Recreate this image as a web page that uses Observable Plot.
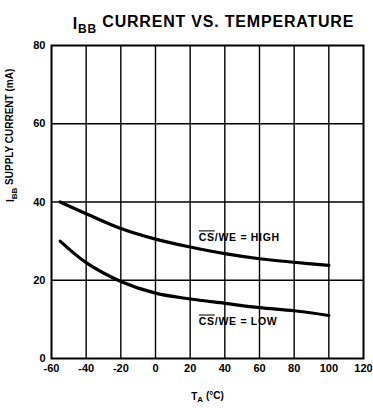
<!DOCTYPE html>
<html><head><meta charset="utf-8">
<script src="https://cdn.jsdelivr.net/npm/d3@7"></script>
<script src="https://cdn.jsdelivr.net/npm/@observablehq/plot@0.6"></script>
<style>body{margin:0;background:#fff}</style>
</head><body><div id="chart"></div>
<script>
const temps = [-55, -40, -20, 0, 20, 40, 60, 80, 100];
const currentHigh = [40, 37, 33.2, 30.5, 28.5, 26.8, 25.5, 24.6, 23.8];
const currentLow = [30, 24.5, 19.7, 16.7, 15.2, 14.1, 13, 12.2, 11];
const xTicks = [-60, -40, -20, 0, 20, 40, 60, 80, 100, 120];
const yTicks = [0, 20, 40, 60, 80];
const seriesLabels = [
  {t: 25, v: 30.8, label: "CS/WE = HIGH"},
  {t: 25, v: 9.3, label: "CS/WE = LOW"}
];

const high = temps.map((t, i) => ({t, v: currentHigh[i]}));
const low = temps.map((t, i) => ({t, v: currentLow[i]}));
const font = "Liberation Sans, Arial, sans-serif";

const chart = Plot.plot({
  width: 373, height: 408,
  marginLeft: 51, marginRight: 10, marginTop: 45, marginBottom: 50,
  style: {fontFamily: font, background: "#fff", color: "#000"},
  x: {domain: [-60, 120]},
  y: {domain: [0, 80]},
  marks: [
    Plot.ruleX(xTicks.slice(1, -1), {stroke: "#000", strokeWidth: 1.4}),
    Plot.ruleY(yTicks.slice(1, -1), {stroke: "#000", strokeWidth: 1.4}),
    Plot.frame({stroke: "#000", strokeWidth: 2}),
    Plot.line(high, {x: "t", y: "v", curve: "catmull-rom", stroke: "#000", strokeWidth: 3.2}),
    Plot.line(low, {x: "t", y: "v", curve: "catmull-rom", stroke: "#000", strokeWidth: 3.2}),
    Plot.text(seriesLabels, {x: "t", y: "v", text: "label", textAnchor: "start", fontSize: 10.5, fontWeight: "bold", className: "serieslabel"}),
    Plot.axisX({ticks: xTicks, tickFormat: d => String(d), tickSize: 0, tickPadding: 6, fontSize: 11, fontWeight: "bold", label: null}),
    Plot.axisY({ticks: yTicks, tickFormat: d => String(d), tickSize: 0, tickPadding: 6, fontSize: 11, fontWeight: "bold", label: null}),
    Plot.text(["x"], {frameAnchor: "bottom", dy: 41, text: d => "TA (°C)", fontSize: 10, fontWeight: "bold", className: "xlabel"}),
    Plot.text(["y"], {frameAnchor: "left", dx: -41, rotate: -90, text: d => "IBB SUPPLY CURRENT (mA)", fontSize: 10, fontWeight: "bold", className: "ylabel"}),
    Plot.text(["t"], {frameAnchor: "top", dy: -28, dx: 6, text: d => "IBB CURRENT VS. TEMPERATURE", fontSize: 16, fontWeight: "bold", className: "title"})
  ]
});
document.getElementById("chart").appendChild(chart);

const svg = d3.select(chart);
svg.select(".title text").attr("letter-spacing", "0.8px");
svg.selectAll(".serieslabel text").attr("letter-spacing", "0.7px");
function sub(sel, main, subText, rest, subSize) {
  const t = sel.select("text");
  t.text(null);
  t.append("tspan").text(main);
  t.append("tspan").attr("font-size", subSize).attr("dy", "0.35em").text(subText);
  t.append("tspan").attr("dy", "-0.35em").text(rest);
}
sub(svg.select(".title"), "I", "BB", " CURRENT VS. TEMPERATURE", 12);
sub(svg.select(".ylabel"), "I", "BB", " SUPPLY CURRENT (mA)", 8);
sub(svg.select(".xlabel"), "T", "A", " (°C)", 8);
svg.selectAll(".serieslabel text").each(function() {
  const el = d3.select(this);
  const s = el.text();
  el.text(null);
  el.append("tspan").attr("text-decoration", "overline").text(s.slice(0, 2));
  el.append("tspan").text(s.slice(2));
});
</script>
</body></html>
